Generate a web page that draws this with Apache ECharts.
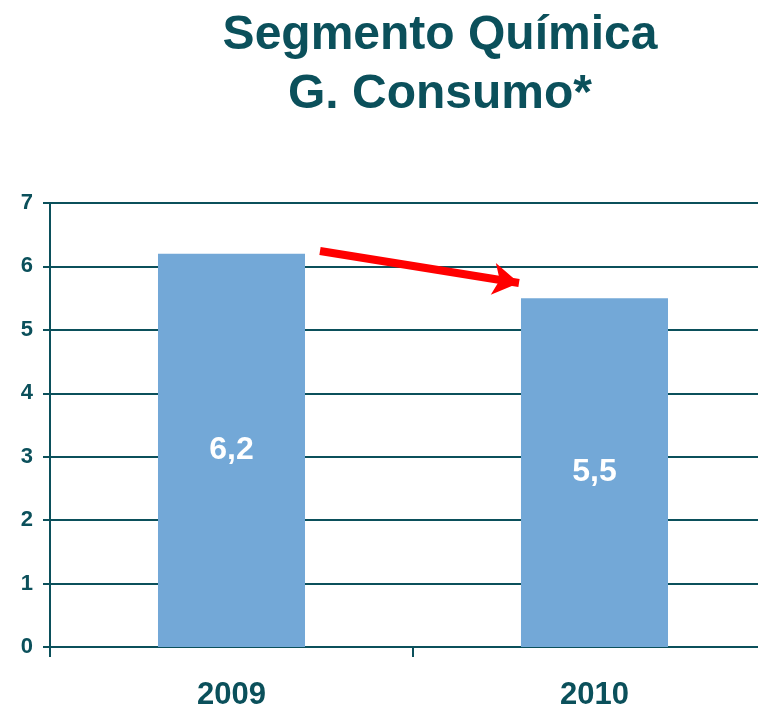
<!DOCTYPE html>
<html>
<head>
<meta charset="utf-8">
<script src="https://cdn.jsdelivr.net/npm/echarts@6/dist/echarts.min.js"></script>
<style>html,body{margin:0;padding:0;background:#fff}#c{width:758px;height:709px}</style>
</head>
<body>
<div id="c"></div>
<script>
const categories = ['2009', '2010'];
const values = [6.2, 5.5];
const yTicks = [0, 1, 2, 3, 4, 5, 6, 7];
const titleLines = ['Segmento Química', 'G. Consumo*'];

const teal = '#0b505b';
const chart = echarts.init(document.getElementById('c'));
chart.setOption({
  animation: false,
  title: {
    text: titleLines.join('\n'),
    left: 435, top: 1, textAlign: 'center',
    textStyle: { fontFamily: 'Liberation Sans, Arial', fontWeight: 'bold', fontSize: 48, color: teal, lineHeight: 59 }
  },
  grid: { left: 50, top: 203, right: -18, bottom: 62, containLabel: false, outerBoundsMode: 'none' },
  xAxis: {
    type: 'category', data: categories,
    axisLine: { lineStyle: { color: teal, width: 2 } },
    axisTick: { show: true, length: 10, lineStyle: { color: teal, width: 2 } },
    axisLabel: { margin: 33, fontFamily: 'Liberation Sans, Arial', fontWeight: 'bold', fontSize: 31, color: teal }
  },
  yAxis: {
    type: 'value', min: yTicks[0], max: yTicks[yTicks.length - 1], interval: 1,
    axisLine: { show: true, lineStyle: { color: teal, width: 2 } },
    axisTick: { show: true, length: 7, lineStyle: { color: teal, width: 2 } },
    splitLine: { lineStyle: { color: teal, width: 2 } },
    axisLabel: { margin: 17, fontFamily: 'Liberation Sans, Arial', fontWeight: 'bold', fontSize: 22, color: teal }
  },
  series: [{
    type: 'bar', data: values, barWidth: '40.5%',
    itemStyle: { color: '#73a8d7' },
    label: {
      show: true, position: 'inside',
      formatter: p => String(p.value).replace('.', ','),
      fontFamily: 'Liberation Sans, Arial', fontWeight: 'bold', fontSize: 32, color: '#fff'
    },
    markLine: {
      silent: true, symbol: ['none', 'arrow'], symbolSize: [24, 26],
      lineStyle: { color: '#ff0000', width: 8, type: 'solid' },
      label: { show: false },
      data: [[{ x: 320, y: 251 }, { x: 519, y: 283 }]]
    }
  }]
});
</script>
</body>
</html>
